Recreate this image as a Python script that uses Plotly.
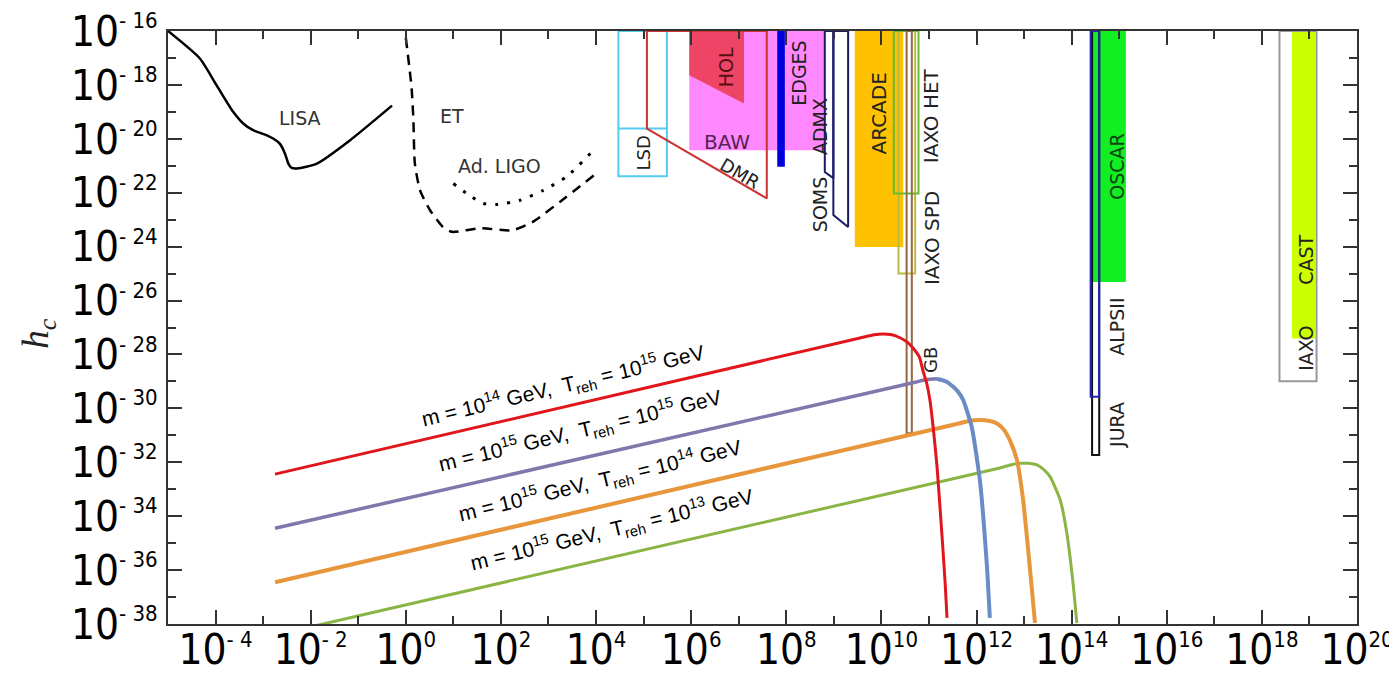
import plotly.graph_objects as go

# ---------------- axis ticks (log10 exponents) ----------------
x_major_exp = [-4, -2, 0, 2, 4, 6, 8, 10, 12, 14, 16, 18, 20]
x_minor_exp = [-3, -1, 1, 3, 5, 7, 9, 11, 13, 15, 17, 19]
y_major_exp = [-16, -18, -20, -22, -24, -26, -28, -30, -32, -34, -36, -38]
y_minor_exp = [-17, -19, -21, -23, -25, -27, -29, -31, -33, -35, -37]

# ---------------- detector sensitivity curves (log10 f, log10 h_c) ----------------
lisa_lx = [-5.0, -4.33, -3.98, -3.63, -3.42, -3.21, -2.92, -2.79, -2.65, -2.54, -2.47, -2.40, -2.29, -1.87, -1.17, -0.29]
lisa_ly = [-16.0, -17.02, -18.01, -19.00, -19.43, -19.68, -19.87, -19.99, -20.18, -20.55, -20.92, -21.08, -21.10, -20.92, -20.05, -18.77]
et_lx = [0.0, 0.12, 0.16, 0.19, 0.30, 0.51, 0.78, 0.97, 1.56, 2.25, 2.67, 3.24, 4.01]
et_ly = [-16.25, -18.08, -19.31, -20.91, -21.91, -22.65, -23.27, -23.45, -23.32, -23.39, -23.08, -22.34, -21.28]
ligo_lx = [1.0, 1.28, 1.63, 1.91, 2.40, 2.89, 3.38, 3.91]
ligo_ly = [-21.66, -22.03, -22.40, -22.44, -22.28, -21.91, -21.41, -20.49]

# ---------------- model spectra (log10 f, log10 h_c) ----------------
red_lx = [-2.75, 9.55, 9.85, 10.03, 10.22, 10.39, 10.55, 10.66, 10.80, 10.87, 10.95, 11.02, 11.10, 11.17, 11.27, 11.34, 11.38]
red_ly = [-32.44, -27.39, -27.27, -27.24, -27.27, -27.38, -27.55, -27.75, -28.10, -28.58, -29.05, -29.69, -30.90, -32.17, -34.62, -36.47, -37.77]
purple_lx = [-2.75, 10.71, 10.95, 11.17]
purple_ly = [-34.45, -29.03, -28.93, -28.90]
blue_lx = [11.17, 11.36, 11.51, 11.62, 11.72, 11.90, 12.07, 12.22, 12.28]
blue_ly = [-28.90, -29.00, -29.20, -29.40, -29.69, -30.69, -32.66, -35.88, -37.77]
orange_lx = [-2.75, 11.65, 11.90, 12.07, 12.28, 12.43, 12.58, 12.70, 12.85, 12.98, 13.12, 13.23]
orange_ly = [-36.45, -30.55, -30.45, -30.43, -30.47, -30.56, -30.80, -31.18, -31.92, -33.40, -35.88, -37.96]
green_lx = [-2.75, 12.49, 12.75, 12.91, 13.10, 13.27, 13.42, 13.55, 13.76, 13.90, 14.03, 14.11]
green_ly = [-38.41, -32.21, -32.08, -32.04, -32.04, -32.10, -32.28, -32.54, -33.40, -34.64, -36.49, -37.97]

# ---------------- experiment regions (log10 f, log10 h_c) ----------------
lsd_lx = [4.47, 4.47, 5.49, 5.49, 4.47]
lsd_ly = [-16.0, -21.39, -21.39, -16.0, -16.0]
lsd_mid_lx = [4.47, 5.49]
lsd_mid_ly = [-19.62, -19.62]
dmr_lx = [5.07, 5.07, 7.59, 7.59]
dmr_ly = [-16.0, -19.62, -22.21, -16.0]
baw_lx = [5.96, 5.96, 8.81, 8.81]
baw_ly = [-16.0, -20.42, -20.42, -16.0]
hol_lx = [5.96, 7.11, 7.11, 5.96]
hol_ly = [-16.0, -16.0, -18.69, -17.64]
edges_lx = [7.81, 7.81, 7.97, 7.97]
edges_ly = [-16.0, -21.04, -21.04, -16.0]
admx_lx = [8.81, 8.81, 8.99, 8.99]
admx_ly = [-16.0, -21.23, -21.46, -16.0]
soms_lx = [8.99, 8.99, 9.30, 9.30]
soms_ly = [-16.0, -22.83, -23.27, -16.0]
arcade_lx = [9.44, 9.44, 10.46, 10.46]
arcade_ly = [-16.0, -24.01, -24.01, -16.0]
spd_lx = [10.36, 10.36, 10.71, 10.71]
spd_ly = [-16.0, -25.0, -25.0, -16.0]
het_lx = [10.26, 10.26, 10.78, 10.78]
het_ly = [-16.0, -22.03, -22.03, -16.0]
gb_lx = [10.53, 10.53, 10.64, 10.64]
gb_ly = [-16.0, -30.92, -30.92, -16.0]
oscar_lx = [14.39, 14.39, 15.14, 15.14]
oscar_ly = [-16.0, -25.31, -25.31, -16.0]
jura_lx = [14.43, 14.43, 14.58, 14.58]
jura_ly = [-16.0, -31.73, -31.73, -16.0]
alps_lx = [14.40, 14.40, 14.58, 14.58]
alps_ly = [-16.0, -29.57, -29.57, -16.0]
iaxo_lx = [18.37, 18.37, 19.15, 19.15]
iaxo_ly = [-16.0, -28.99, -28.99, -16.0]
cast_lx = [18.63, 18.63, 19.12, 19.12]
cast_ly = [-16.0, -27.41, -27.41, -16.0]

# ---------------- text labels: (text, log10 x, log10 y, angle, size, color) ----------------
region_labels = [
    ("LISA", -2.22, -19.24, 0, 19, "#333333"),
    ("ET", 0.97, -19.17, 0, 19, "#333333"),
    ("Ad. LIGO", 1.98, -21.0, 0, 19, "#333333"),
    ("LSD", 4.99, -20.54, -90, 18, "#222222"),
    ("DMR", 7.03, -21.28, 30, 18, "#222222"),
    ("HOL", 6.75, -17.35, -90, 19, "#551111"),
    ("BAW", 6.75, -20.12, 0, 20, "#552255"),
    ("EDGES", 8.25, -17.58, -90, 19, "#222222"),
    ("ADMX", 8.71, -19.56, -90, 19, "#222222"),
    ("SOMS", 8.71, -22.46, -90, 19, "#222222"),
    ("ARCADE", 9.97, -19.06, -90, 20, "#222222"),
    ("IAXO HET", 11.06, -19.13, -90, 20, "#222222"),
    ("IAXO SPD", 11.06, -23.69, -90, 20, "#222222"),
    ("GB", 11.02, -28.21, -90, 18, "#222222"),
    ("OSCAR", 14.95, -21.04, -90, 19, "#114411"),
    ("ALPSII", 14.95, -26.98, -90, 19, "#222222"),
    ("JURA", 14.95, -30.62, -90, 19, "#222222"),
    ("CAST", 18.94, -24.5, -90, 19, "#222222"),
    ("IAXO", 18.94, -27.77, -90, 19, "#222222"),
]
model_labels = [
    ("m = 10<sup>14</sup> GeV,  T<sub>reh</sub> = 10<sup>15</sup> GeV", 3.31, -29.14),
    ("m = 10<sup>15</sup> GeV,  T<sub>reh</sub> = 10<sup>15</sup> GeV", 3.66, -30.81),
    ("m = 10<sup>15</sup> GeV,  T<sub>reh</sub> = 10<sup>14</sup> GeV", 4.08, -32.66),
    ("m = 10<sup>15</sup> GeV,  T<sub>reh</sub> = 10<sup>13</sup> GeV", 4.34, -34.51),
]


def P(a):
    return [10.0 ** v for v in a]


def tick_text(e):
    if e < 0:
        s = "- " + str(-e)
    else:
        s = str(e)
    return '10<sup><span style="font-size:22px">' + s + '</span></sup>'


fig = go.Figure()


def poly(lx, ly, color=None, width=1.5, fill=None, close=True):
    xs, ys = P(lx), P(ly)
    if close:
        xs = xs + [xs[0]]
        ys = ys + [ys[0]]
    fig.add_trace(go.Scatter(
        x=xs, y=ys, mode="lines",
        line=dict(color=color if color else "rgba(0,0,0,0)", width=width if color else 0),
        fill="toself" if fill else "none", fillcolor=fill,
        hoverinfo="skip", showlegend=False))


# filled regions
poly(baw_lx, baw_ly, fill="#ff88ff")
poly(hol_lx, hol_ly, fill="#ee4466")
poly(arcade_lx, arcade_ly, fill="#ffc200")
poly(oscar_lx, oscar_ly, fill="#11ee22")
poly(cast_lx, cast_ly, fill="#ccff00")
poly(edges_lx, edges_ly, fill="#0000dd")
# outlines
poly(lsd_lx, lsd_ly, color="#55ccee", width=2, close=False)
poly(lsd_mid_lx, lsd_mid_ly, color="#55ccee", width=2, close=False)
poly(dmr_lx, dmr_ly, color="#cc3333", width=2)
poly(admx_lx, admx_ly, color="#1a1a66", width=2)
poly(soms_lx, soms_ly, color="#1a1a66", width=2)
poly(spd_lx, spd_ly, color="#bbbb44", width=2)
poly(het_lx, het_ly, color="#66bb33", width=2)
poly(gb_lx, gb_ly, color="#996644", width=2)
poly(jura_lx, jura_ly, color="#111111", width=2)
poly(alps_lx, alps_ly, color="#2222bb", width=2)
poly(iaxo_lx, iaxo_ly, color="#999999", width=2)

# detector curves
fig.add_trace(go.Scatter(x=P(lisa_lx), y=P(lisa_ly), mode="lines", line=dict(color="black", width=2.5, shape="spline", smoothing=0.6), hoverinfo="skip", showlegend=False))
fig.add_trace(go.Scatter(x=P(et_lx), y=P(et_ly), mode="lines", line=dict(color="black", width=2.5, dash="10px,7px", shape="spline", smoothing=0.6), hoverinfo="skip", showlegend=False))
fig.add_trace(go.Scatter(x=P(ligo_lx), y=P(ligo_ly), mode="lines", line=dict(color="black", width=3, dash="3px,9px", shape="spline", smoothing=0.6), hoverinfo="skip", showlegend=False))

# model curves
fig.add_trace(go.Scatter(x=P(green_lx), y=P(green_ly), mode="lines", line=dict(color="#8ab545", width=3, shape="spline", smoothing=0.5), hoverinfo="skip", showlegend=False))
fig.add_trace(go.Scatter(x=P(orange_lx), y=P(orange_ly), mode="lines", line=dict(color="#e8963c", width=4, shape="spline", smoothing=0.5), hoverinfo="skip", showlegend=False))
fig.add_trace(go.Scatter(x=P(purple_lx), y=P(purple_ly), mode="lines", line=dict(color="#8078ac", width=3.5, shape="spline", smoothing=0.5), hoverinfo="skip", showlegend=False))
fig.add_trace(go.Scatter(x=P(blue_lx), y=P(blue_ly), mode="lines", line=dict(color="#6a8cc4", width=4, shape="spline", smoothing=0.5), hoverinfo="skip", showlegend=False))
fig.add_trace(go.Scatter(x=P(red_lx), y=P(red_ly), mode="lines", line=dict(color="#e0161c", width=3, shape="spline", smoothing=0.5), hoverinfo="skip", showlegend=False))

annotations = []
for (t, lx, ly, ang, sz, col) in region_labels:
    annotations.append(dict(x=lx, y=ly, xref="x", yref="y", text=t, showarrow=False,
                            textangle=ang, font=dict(family="DejaVu Sans", size=sz, color=col)))
for (t, lx, ly) in model_labels:
    annotations.append(dict(x=lx, y=ly, xref="x", yref="y", text=t, showarrow=False,
                            textangle=-13.5, font=dict(family="Liberation Sans", size=21, color="black")))
annotations.append(dict(x=-0.109, y=0.49, xref="paper", yref="paper", xanchor="center", yanchor="middle",
                        text="<i>h</i><sub><i>c</i></sub>",
                        showarrow=False, textangle=-90,
                        font=dict(family="Liberation Serif", size=37, color="#222222")))
fig.update_layout(annotations=annotations)

tick_font = dict(family="DejaVu Sans Condensed, DejaVu Sans", size=42, color="black")
axis_common = dict(type="log", automargin=False, showgrid=False, zeroline=False, showline=True,
                   linecolor="#333333", linewidth=2, mirror="allticks", ticks="inside", ticklen=14,
                   tickwidth=1.5, tickcolor="#333333", tickfont=tick_font, ticklabeloverflow="allow")

fig.update_xaxes(range=[-5, 20], tickvals=P(x_major_exp), ticktext=[tick_text(e) for e in x_major_exp],
                 ticklabelstandoff=-12,
                 minor=dict(tickvals=P(x_minor_exp), ticks="inside", ticklen=8, tickwidth=1.5,
                            tickcolor="#333333", showgrid=False), **axis_common)
fig.update_yaxes(range=[-38, -16], tickvals=P(y_major_exp), ticktext=[tick_text(e) for e in y_major_exp],
                 minor=dict(tickvals=P(y_minor_exp), ticks="inside", ticklen=8, tickwidth=1.5,
                            tickcolor="#333333", showgrid=False), **axis_common)

# page body adds an 8px offset; size the figure so the plot area lands at x 168-1357, y 31-624
fig.update_layout(width=1389, height=666, margin=dict(l=160, r=40, t=23, b=50),
                  paper_bgcolor="white", plot_bgcolor="white", showlegend=False)

fig.write_html("out.html")
